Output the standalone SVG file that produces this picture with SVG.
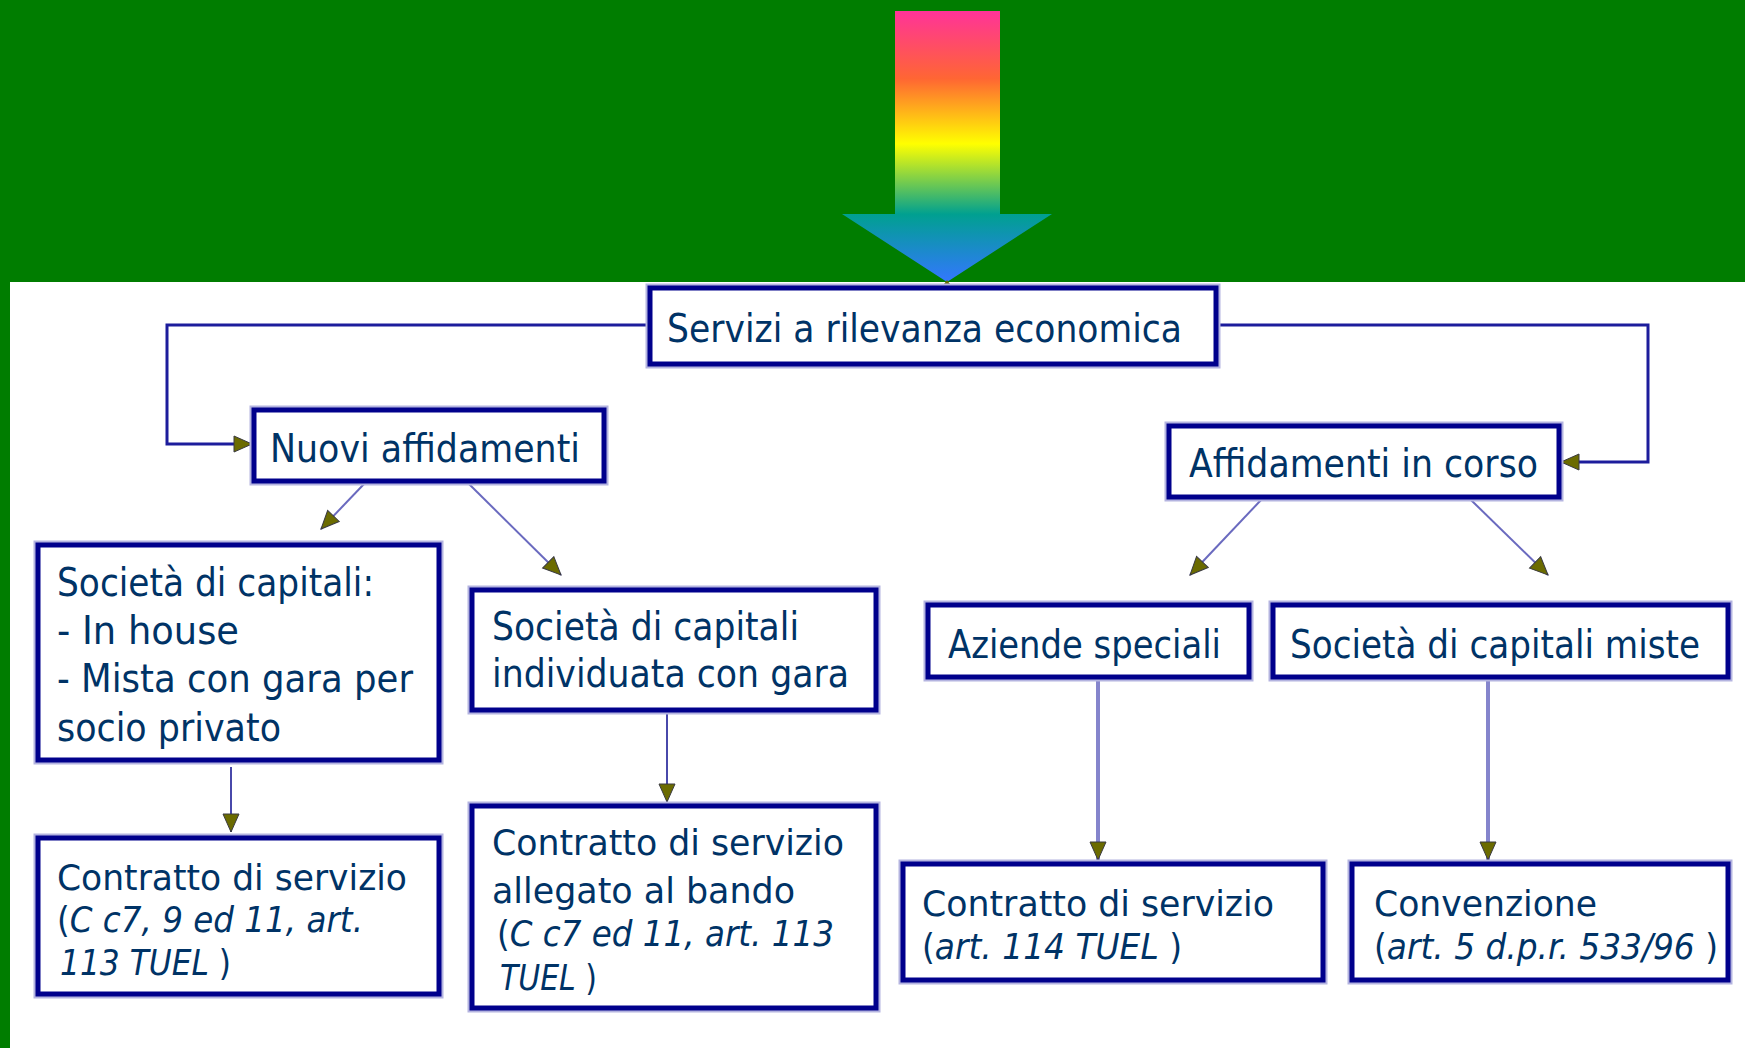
<svg xmlns="http://www.w3.org/2000/svg" width="1745" height="1048" viewBox="0 0 1745 1048">
<style>
.box{fill:#ffffff;stroke:#00008c;stroke-width:5}
.halo{fill:none;stroke:#b4b4e0;stroke-width:9}
.t{font-family:"DejaVu Sans","Liberation Sans",sans-serif;font-size:39px;fill:#003366}
.s{font-size:36px}
.i{font-style:italic}
.main{fill:none;stroke:#1c1c9c;stroke-width:3}
.diag{fill:none;stroke:#6a6abf;stroke-width:2}
.vthin{fill:none;stroke:#4848aa;stroke-width:2}
.vthick{fill:none;stroke:#8585cc;stroke-width:4}
</style>
<defs>
<linearGradient id="rainbow" gradientUnits="userSpaceOnUse" x1="0" y1="11" x2="0" y2="282">
<stop offset="0" stop-color="#ff3399"/>
<stop offset="0.25" stop-color="#ff6633"/>
<stop offset="0.49" stop-color="#ffff00"/>
<stop offset="0.75" stop-color="#00a090"/>
<stop offset="1" stop-color="#3377ff"/>
</linearGradient>
<marker id="ah" markerUnits="userSpaceOnUse" markerWidth="20" markerHeight="20" viewBox="0 0 20 20" refX="19" refY="10" orient="auto">
<path d="M1,2 L19,10 L1,18 z" fill="#6b6b00" stroke="#3a3a40" stroke-width="1"/>
</marker>
</defs>
<rect x="0" y="0" width="1745" height="1048" fill="#ffffff"/>
<rect x="0" y="0" width="1745" height="282" fill="#007d00"/>
<rect x="0" y="0" width="10" height="1048" fill="#007d00"/>
<g id="big-arrow">
<polygon points="895,11 1000,11 1000,214 1052,214 947,282 842,214 895,214" fill="url(#rainbow)"/>
<path d="M947,280 L944,284 L947,291 L950,284 z" fill="#6b6b00"/>
</g>
<g id="connectors">
<polyline class="main" points="648,325 167,325 167,444 252,444" marker-end="url(#ah)"/>
<polyline class="main" points="1218,325 1648,325 1648,462 1561,462" marker-end="url(#ah)"/>
<line class="diag" x1="364" y1="484" x2="321" y2="529" marker-end="url(#ah)"/>
<line class="diag" x1="469" y1="484" x2="561" y2="575" marker-end="url(#ah)"/>
<line class="diag" x1="1261" y1="500" x2="1190" y2="575" marker-end="url(#ah)"/>
<line class="diag" x1="1471" y1="500" x2="1548" y2="575" marker-end="url(#ah)"/>
<line class="vthin" x1="231" y1="767" x2="231" y2="832" marker-end="url(#ah)"/>
<line class="vthin" x1="667" y1="712" x2="667" y2="802" marker-end="url(#ah)"/>
<line class="vthick" x1="1098" y1="679" x2="1098" y2="860" marker-end="url(#ah)"/>
<line class="vthick" x1="1488" y1="679" x2="1488" y2="860" marker-end="url(#ah)"/>
</g>
<g id="servizi">
<rect class="halo" x="650" y="288" width="566" height="76"/>
<rect class="box" x="650" y="288" width="566" height="76"/>
<text class="t" x="667" y="342" textLength="515" lengthAdjust="spacingAndGlyphs">Servizi a rilevanza economica</text>
</g>
<g id="nuovi">
<rect class="halo" x="254" y="410" width="350" height="71"/>
<rect class="box" x="254" y="410" width="350" height="71"/>
<text class="t" x="270" y="462" textLength="310" lengthAdjust="spacingAndGlyphs">Nuovi affidamenti</text>
</g>
<g id="affidamenti">
<rect class="halo" x="1169" y="426" width="390" height="71"/>
<rect class="box" x="1169" y="426" width="390" height="71"/>
<text class="t" x="1189" y="477" textLength="349" lengthAdjust="spacingAndGlyphs">Affidamenti in corso</text>
</g>
<g id="societa-capitali">
<rect class="halo" x="38" y="545" width="401" height="215"/>
<rect class="box" x="38" y="545" width="401" height="215"/>
<text class="t" x="57" y="596" textLength="317" lengthAdjust="spacingAndGlyphs">Società di capitali:</text>
<text class="t" x="57" y="644" textLength="182" lengthAdjust="spacingAndGlyphs">- In house</text>
<text class="t" x="57" y="692" textLength="356" lengthAdjust="spacingAndGlyphs">- Mista con gara per</text>
<text class="t" x="57" y="741" textLength="224" lengthAdjust="spacingAndGlyphs">socio privato</text>
</g>
<g id="societa-gara">
<rect class="halo" x="472" y="590" width="404" height="120"/>
<rect class="box" x="472" y="590" width="404" height="120"/>
<text class="t" x="492" y="640" textLength="307" lengthAdjust="spacingAndGlyphs">Società di capitali</text>
<text class="t" x="492" y="687" textLength="357" lengthAdjust="spacingAndGlyphs">individuata con gara</text>
</g>
<g id="contratto-1">
<rect class="halo" x="38" y="838" width="401" height="156"/>
<rect class="box" x="38" y="838" width="401" height="156"/>
<text class="t s" x="57" y="890" textLength="350" lengthAdjust="spacingAndGlyphs">Contratto di servizio</text>
<text class="t s" x="57" y="932" textLength="306" lengthAdjust="spacingAndGlyphs">(<tspan class="i">C c7, 9 ed 11, art.</tspan></text>
<text class="t s" x="60" y="975" textLength="171" lengthAdjust="spacingAndGlyphs"><tspan class="i">113 TUEL</tspan> )</text>
</g>
<g id="contratto-2">
<rect class="halo" x="472" y="806" width="404" height="202"/>
<rect class="box" x="472" y="806" width="404" height="202"/>
<text class="t s" x="492" y="855" textLength="352" lengthAdjust="spacingAndGlyphs">Contratto di servizio</text>
<text class="t s" x="492" y="903" textLength="303" lengthAdjust="spacingAndGlyphs">allegato al bando</text>
<text class="t s" x="497" y="946" textLength="337" lengthAdjust="spacingAndGlyphs">(<tspan class="i">C c7 ed 11, art. 113</tspan></text>
<text class="t s" x="500" y="990" textLength="97" lengthAdjust="spacingAndGlyphs"><tspan class="i">TUEL</tspan> )</text>
</g>
<g id="aziende">
<rect class="halo" x="928" y="605" width="321" height="72"/>
<rect class="box" x="928" y="605" width="321" height="72"/>
<text class="t" x="948" y="658" textLength="273" lengthAdjust="spacingAndGlyphs">Aziende speciali</text>
</g>
<g id="miste">
<rect class="halo" x="1273" y="605" width="455" height="72"/>
<rect class="box" x="1273" y="605" width="455" height="72"/>
<text class="t" x="1290" y="658" textLength="410" lengthAdjust="spacingAndGlyphs">Società di capitali miste</text>
</g>
<g id="contratto-3">
<rect class="halo" x="903" y="864" width="420" height="116"/>
<rect class="box" x="903" y="864" width="420" height="116"/>
<text class="t s" x="922" y="916" textLength="352" lengthAdjust="spacingAndGlyphs">Contratto di servizio</text>
<text class="t s" x="922" y="959" textLength="260" lengthAdjust="spacingAndGlyphs">(<tspan class="i">art. 114 TUEL</tspan> )</text>
</g>
<g id="convenzione">
<rect class="halo" x="1352" y="864" width="376" height="116"/>
<rect class="box" x="1352" y="864" width="376" height="116"/>
<text class="t s" x="1374" y="916" textLength="223" lengthAdjust="spacingAndGlyphs">Convenzione</text>
<text class="t s" x="1374" y="959" textLength="344" lengthAdjust="spacingAndGlyphs">(<tspan class="i">art. 5 d.p.r. 533/96</tspan> )</text>
</g>
</svg>
